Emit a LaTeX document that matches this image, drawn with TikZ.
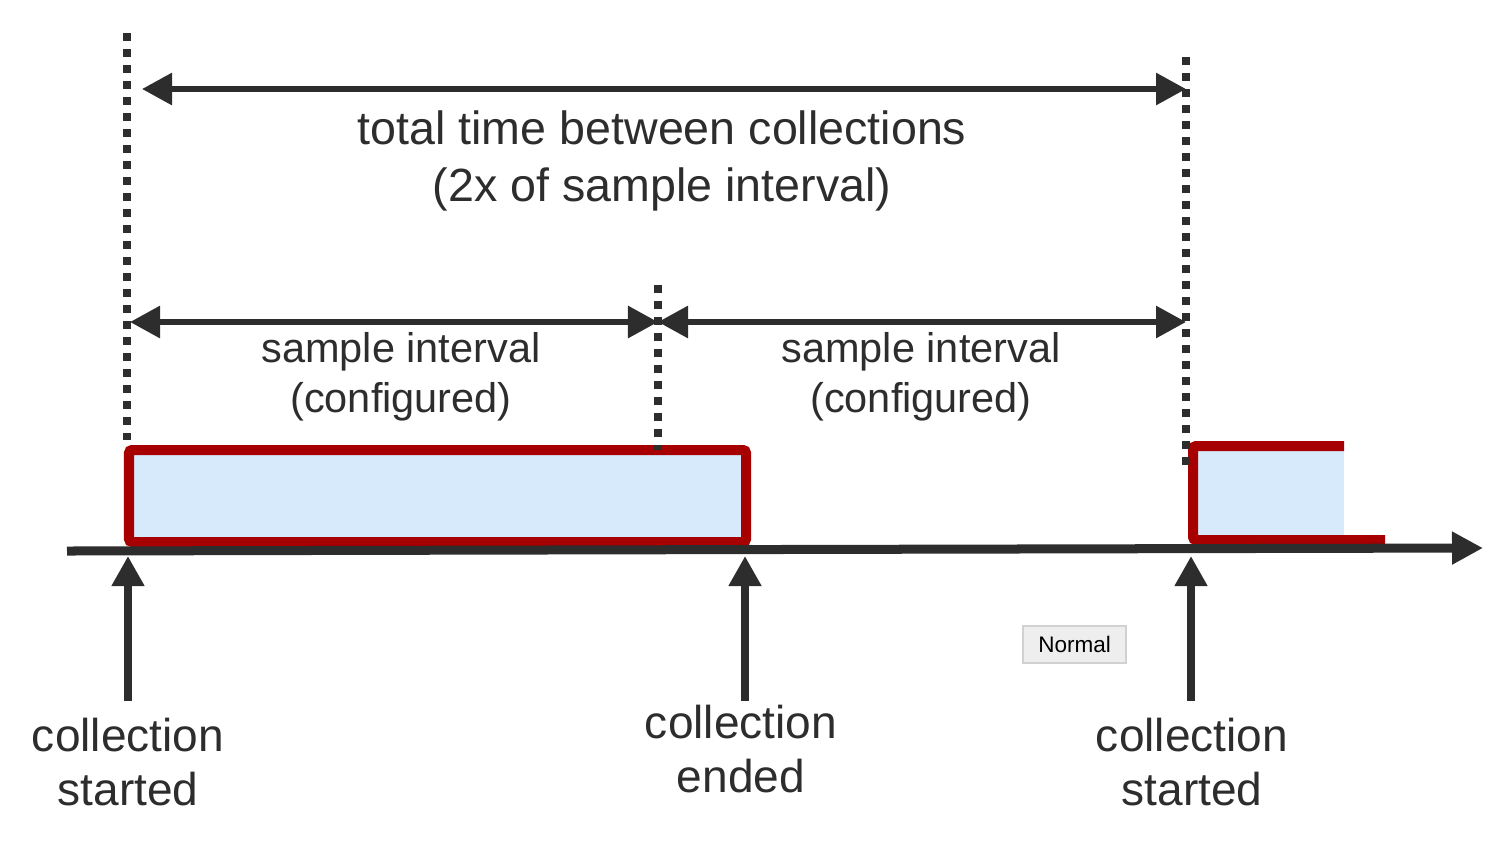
\documentclass[tikz,border=0pt]{standalone}
\usepackage{fontspec}
\setmainfont{Liberation Sans}
\usetikzlibrary{arrows.meta}
\definecolor{ink}{HTML}{2D2D2D}
\definecolor{boxred}{HTML}{A60000}
\definecolor{boxblue}{HTML}{D6EAFC}
\definecolor{btngrey}{HTML}{EEEEEE}

\begin{document}
\begin{tikzpicture}[
  x=0.01cm, y=-0.01cm,
  marker/.style={ink, line width=0.08cm, dash pattern=on 0.08cm off 0.08cm},
  dim/.style={{Triangle[length=0.30cm,width=0.31cm]}-{Triangle[length=0.30cm,width=0.31cm]}, ink, line width=0.06cm},
  up/.style={-{Triangle[length=0.30cm,width=0.31cm]}, ink, line width=0.08cm},
  axis/.style={-{Triangle[length=0.31cm,width=0.31cm]}, ink, line width=0.09cm},
  run/.style={draw=boxred, fill=boxblue, line width=0.10cm, rounded corners=0.03cm},
  biglabel/.style={ink, align=center, font=\fontsize{13.25}{16.2}\selectfont},
  midlabel/.style={ink, align=center, font=\fontsize{11.8}{14.2}\selectfont},
  timelabel/.style={ink, align=center, font=\fontsize{13.1}{15.6}\selectfont},
  button/.style={draw=black!18, fill=btngrey, minimum width=1.03cm, minimum height=0.37cm, inner sep=0pt, font=\fontsize{6.4}{7}\selectfont}
]
\useasboundingbox (0,0) rectangle (1498,842);

% collection runs
\draw[run] (129,450) rectangle (746,542);
\fill[boxblue] (1193,446) rectangle (1344,540);
\draw[boxred, line width=0.10cm, rounded corners=0.03cm] (1344,446) -- (1193,446) -- (1193,540) -- (1385,540);

% time axis
\coordinate (axisL) at (67,551);
\coordinate (axisR) at (1483,548);
\draw[axis] (axisL) -- (axisR);

% interval markers
\coordinate (startTop) at (127,33);
\coordinate (startBot) at (127,440);
\coordinate (midTop) at (658,285);
\coordinate (midBot) at (658,450);
\coordinate (nextTop) at (1186,57);
\coordinate (nextBot) at (1186,470);
\draw[marker] (startTop) -- (startBot);
\draw[marker] (midTop) -- (midBot);
\draw[marker] (nextTop) -- (nextBot);

% dimension arrows
\coordinate (totL) at (142,89);
\coordinate (totR) at (1186,89);
\coordinate (smpL) at (130,322);
\coordinate (smpM) at (658,322);
\coordinate (smpR) at (1186,322);
\draw[dim] (totL) -- (totR);
\draw[dim] (smpL) -- (smpM);
\draw[dim] (smpM) -- (smpR);

\node[biglabel] (total) at (662,161) {total time between collections\\(2x of sample interval)};
\node[midlabel] (sampleA) at (401,377) {sample interval\\(configured)};
\node[midlabel] (sampleB) at (921,377) {sample interval\\(configured)};

% events
\node[timelabel] (startA) at (128,762) {collection\\started};
\node[timelabel] (ended) at (741,749) {collection\\ended};
\node[timelabel] (startB) at (1192,762) {collection\\started};
\coordinate (startAtip) at (128,556);
\coordinate (endedtip) at (745,556);
\coordinate (startBtip) at (1191,556);
\draw[up] (128,701) -- (startAtip);
\draw[up] (745,701) -- (endedtip);
\draw[up] (1191,701) -- (startBtip);

\node[button] (normal) at (1074.5,644.5) {Normal};
\end{tikzpicture}
\end{document}
